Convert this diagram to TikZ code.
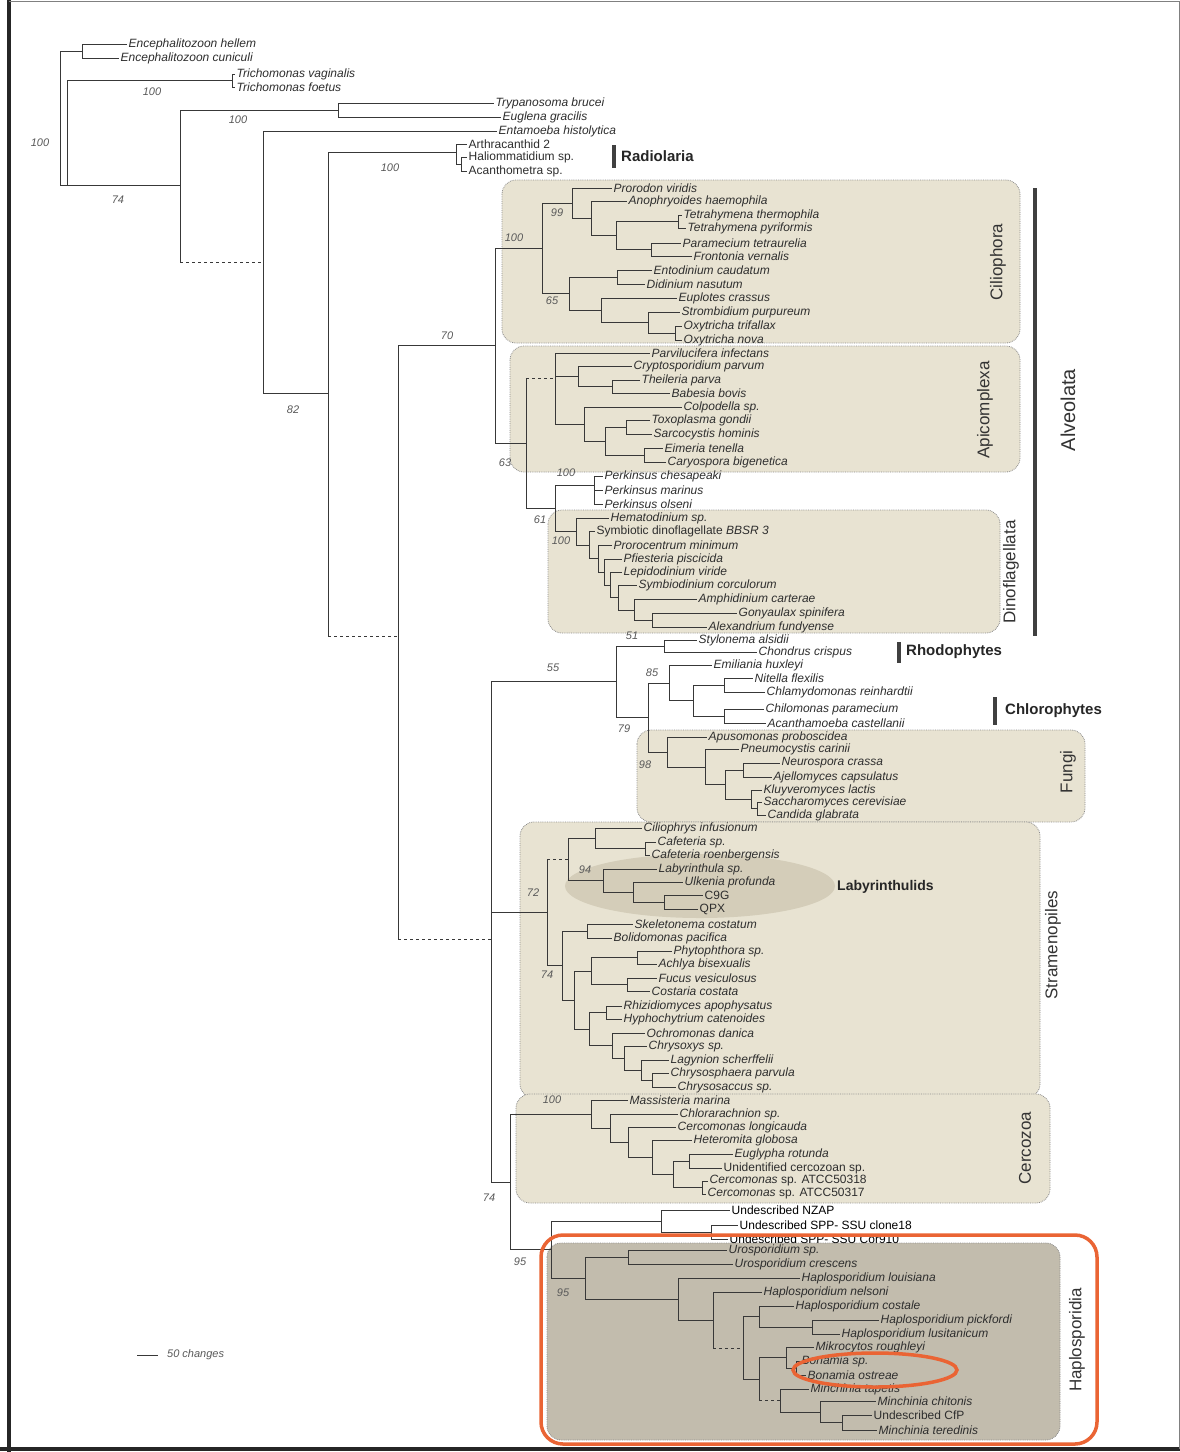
\documentclass[tikz,border=0pt]{standalone}
\usepackage{fontspec}
\setmainfont{Liberation Sans}
\definecolor{boxfill}{RGB}{232,227,210}
\definecolor{hapfill}{RGB}{194,188,173}
\definecolor{labyfill}{RGB}{212,205,185}
\definecolor{orng}{RGB}{234,100,52}
\newcommand\Br[2]{\draw[br] (#1) |- (#2);}
\newcommand\Bd[2]{\draw[br] (#1) -- (#1 |- #2); \draw[br,dashed] (#1 |- #2) -- (#2);}
\newcommand\Lf[5]{\node[leaf] (#1) at (#3,#4) {#5}; \draw[br] (#2) |- (#1.west);}
\begin{document}
\begin{tikzpicture}[x=1pt,y=-1pt,
 br/.style={draw=black!78, line width=0.9pt},
 leaf/.style={anchor=west, inner sep=1.5pt, font=\fontsize{12}{13}\selectfont\itshape, text=black!82},
 bs/.style={font=\fontsize{11}{12}\selectfont\itshape, text=black!65, inner sep=1pt},
 grp/.style={rotate=90, font=\fontsize{17}{18}\selectfont, text=black!80, inner sep=0pt},
 tag/.style={anchor=west, font=\fontsize{15}{16}\selectfont\bfseries, text=black!85, inner sep=1pt},
 clade/.style={fill=boxfill, draw=black!45, densely dotted, line width=0.8pt, rounded corners=14pt},
 bar/.style={line width=3.5pt, draw=black!75}]
\useasboundingbox (0,0) rectangle (1180,1452);
\fill[white] (0,0) rectangle (1180,1452);
% frame
\draw[line width=4pt, black!85] (9,0) -- (9,1452);
\draw[line width=4pt, black!85] (0,1449) -- (1180,1449);
\draw[line width=1pt, black!50] (9,1) -- (1180,1);
\draw[line width=1pt, black!50] (1179,1) -- (1179,1449);
% clade boxes
\draw[clade] (502,180) rectangle (1020,343);
\draw[clade] (510,346) rectangle (1020,472);
\draw[clade] (548,510) rectangle (1000,633);
\draw[clade] (637,730) rectangle (1085,822);
\draw[clade] (520,822) rectangle (1040,1098);
\draw[clade] (516,1094) rectangle (1050,1203);
\draw[clade, fill=hapfill] (547,1243) rectangle (1060,1440);
\fill[labyfill] (700,886) ellipse [x radius=135, y radius=32];
% internal nodes: top
\coordinate (R0) at (60,118);
\coordinate (Nenc) at (82,51);
\coordinate (R1) at (67,185);
\coordinate (Ntri) at (232,80.5);
\coordinate (N2) at (180,185);
\coordinate (Ntry) at (338,110);
\coordinate (N3) at (263,262);
\coordinate (N4) at (328,393);
\coordinate (Nrad) at (456,152);
\coordinate (Nrad2) at (461,164);
\coordinate (N5) at (398,636);
\coordinate (A0) at (495,345);
\coordinate (N6) at (491,939);
\Br{R0}{Nenc} \Br{R0}{R1} \Br{R1}{Ntri} \Br{R1}{N2} \Br{N2}{Ntry} \Bd{N2}{N3}
\Br{N3}{N4} \Br{N4}{Nrad} \Br{Nrad}{Nrad2} \Bd{N4}{N5} \Br{N5}{A0} \Bd{N5}{N6}
\Lf{l1}{Nenc}{127}{44}{Encephalitozoon hellem}
\Lf{l2}{Nenc}{119}{58}{Encephalitozoon cuniculi}
\Lf{l3}{Ntri}{235}{74}{Trichomonas vaginalis}
\Lf{l4}{Ntri}{235}{87}{Trichomonas foetus}
\Lf{l5}{Ntry}{494}{103}{Trypanosoma brucei}
\Lf{l6}{Ntry}{501}{117}{Euglena gracilis}
\Lf{l7}{N3}{497}{131}{Entamoeba histolytica}
\Lf{l8}{Nrad}{467}{144}{\upshape Arthracanthid 2}
\Lf{l9}{Nrad2}{467}{157}{\upshape Haliommatidium sp.}
\Lf{l10}{Nrad2}{467}{171}{\upshape Acanthometra sp.}
\node[bs] (b1) at (152,92) {100};
\node[bs] (b2) at (238,120) {100};
\node[bs] (b3) at (40,143) {100};
\node[bs] (b4) at (390,168) {100};
\node[bs] (b5) at (118,200) {74};
\node[bs] (b6) at (293,410) {82};
\node[bs] (b7) at (447,336) {70};
\draw[bar] (614,145) -- (614,168);
\node[tag] (tRad) at (620,156) {Radiolaria};
% Ciliophora
\coordinate (C1) at (542,248);
\coordinate (C2) at (572,203);
\coordinate (C3) at (591,218.5);
\coordinate (C4) at (616,235.5);
\coordinate (Ctet) at (678,221.5);
\coordinate (C5) at (651,249.5);
\coordinate (C6) at (569,293.5);
\coordinate (C7) at (617,277);
\coordinate (C8) at (601,310);
\coordinate (C8b) at (648,322.5);
\coordinate (Coxy) at (675,333);
\Br{A0}{C1} \Br{C1}{C2} \Br{C2}{C3} \Br{C3}{C4} \Br{C4}{Ctet} \Br{C4}{C5}
\Br{C1}{C6} \Br{C6}{C7} \Br{C6}{C8} \Br{C8}{C8b} \Br{C8b}{Coxy}
\Lf{c1}{C2}{612}{188}{Prorodon viridis}
\Lf{c2}{C3}{627}{201}{Anophryoides haemophila}
\Lf{c3}{Ctet}{682}{215}{Tetrahymena thermophila}
\Lf{c4}{Ctet}{686}{228}{Tetrahymena pyriformis}
\Lf{c5}{C5}{681}{243}{Paramecium tetraurelia}
\Lf{c6}{C5}{692}{256}{Frontonia vernalis}
\Lf{c7}{C7}{652}{270}{Entodinium caudatum}
\Lf{c8}{C7}{645}{284}{Didinium nasutum}
\Lf{c9}{C8}{677}{298}{Euplotes crassus}
\Lf{c10}{C8b}{680}{312}{Strombidium purpureum}
\Lf{c11}{Coxy}{682}{326}{Oxytricha trifallax}
\Lf{c12}{Coxy}{682}{340}{Oxytricha nova}
\node[bs] (b8) at (514,238) {100};
\node[bs] (b9) at (557,213) {99};
\node[bs] (b10) at (552,301) {65};
% Apicomplexa
\coordinate (A1) at (526,443);
\coordinate (AP0) at (555,378);
\coordinate (AP1) at (578,376);
\coordinate (AP2) at (612,386.5);
\coordinate (AP3) at (584,424);
\coordinate (AP4) at (605,441);
\coordinate (AP5) at (626,427);
\coordinate (AP6) at (644,455);
\Br{A0}{A1} \Bd{A1}{AP0} \Br{AP0}{AP1} \Br{AP1}{AP2} \Br{AP0}{AP3} \Br{AP3}{AP4} \Br{AP4}{AP5} \Br{AP4}{AP6}
\Lf{a1}{AP0}{650}{353}{Parvilucifera infectans}
\Lf{a2}{AP1}{632}{366}{Cryptosporidium parvum}
\Lf{a3}{AP2}{640}{380}{Theileria parva}
\Lf{a4}{AP2}{670}{393}{Babesia bovis}
\Lf{a5}{AP3}{682}{407}{Colpodella sp.}
\Lf{a6}{AP5}{650}{420}{Toxoplasma gondii}
\Lf{a7}{AP5}{652}{434}{Sarcocystis hominis}
\Lf{a8}{AP6}{663}{448}{Eimeria tenella}
\Lf{a9}{AP6}{666}{462}{Caryospora bigenetica}
\node[bs] (b11) at (505,463) {63};
% Perkinsus and Dinoflagellata
\coordinate (A2) at (555,508);
\coordinate (Nperk) at (594,485);
\coordinate (D0) at (576,531);
\coordinate (D1) at (589,545);
\coordinate (D2) at (598,558);
\coordinate (D3) at (604,572);
\coordinate (D4) at (610,585);
\coordinate (D5) at (618,597);
\coordinate (D6) at (634,610);
\coordinate (D7) at (652,620);
\Br{A1}{A2} \Br{A2}{Nperk} \Br{A2}{D0} \Br{D0}{D1} \Br{D1}{D2} \Br{D2}{D3}
\Br{D3}{D4} \Br{D4}{D5} \Br{D5}{D6} \Br{D6}{D7}
\Lf{p1}{Nperk}{603}{476}{Perkinsus chesapeaki}
\Lf{p2}{Nperk}{603}{490}{Perkinsus marinus}
\Lf{p3}{Nperk}{603}{504}{Perkinsus olseni}
\Lf{d1}{D0}{609}{518}{Hematodinium sp.}
\Lf{d2}{D1}{595}{531}{\upshape Symbiotic dinoflagellate \itshape BBSR 3}
\Lf{d3}{D2}{612}{545}{Prorocentrum minimum}
\Lf{d4}{D3}{622}{559}{Pfiesteria piscicida}
\Lf{d5}{D4}{622}{572}{Lepidodinium viride}
\Lf{d6}{D5}{637}{585}{Symbiodinium corculorum}
\Lf{d7}{D6}{697}{599}{Amphidinium carterae}
\Lf{d8}{D7}{737}{613}{Gonyaulax spinifera}
\Lf{d9}{D7}{707}{627}{Alexandrium fundyense}
\node[bs] (b12) at (566,473) {100};
\node[bs] (b13) at (540,520) {61};
\node[bs] (b14) at (561,541) {100};
% Rhodophytes, chlorophytes, fungi
\coordinate (R) at (616,681.5);
\coordinate (Rho) at (664,646);
\coordinate (R2) at (648,717);
\coordinate (G85) at (669,683);
\coordinate (G2) at (693,700.5);
\coordinate (G3) at (724,685);
\coordinate (G4) at (724,716);
\coordinate (F0) at (667,752);
\coordinate (F1) at (705,767);
\coordinate (F2) at (725,784.5);
\coordinate (F3) at (743,770);
\coordinate (F4) at (751,799);
\coordinate (F5) at (757,808.5);
\Br{N6}{R} \Br{R}{Rho} \Br{R}{R2} \Br{R2}{G85} \Br{G85}{G2} \Br{G2}{G3} \Br{G2}{G4}
\Br{R2}{F0} \Br{F0}{F1} \Br{F1}{F2} \Br{F2}{F3} \Br{F2}{F4} \Br{F4}{F5}
\Lf{r1}{Rho}{697}{640}{Stylonema alsidii}
\Lf{r2}{Rho}{757}{652}{Chondrus crispus}
\Lf{g1}{G85}{712}{665}{Emiliania huxleyi}
\Lf{g2}{G3}{753}{678}{Nitella flexilis}
\Lf{g3}{G3}{765}{692}{Chlamydomonas reinhardtii}
\Lf{g4}{G4}{764}{709}{Chilomonas paramecium}
\Lf{g5}{G4}{766}{723}{Acanthamoeba castellanii}
\Lf{f1}{F0}{707}{737}{Apusomonas proboscidea}
\Lf{f2}{F1}{739}{749}{Pneumocystis carinii}
\Lf{f3}{F3}{780}{763}{Neurospora crassa}
\Lf{f4}{F3}{772}{777}{Ajellomyces capsulatus}
\Lf{f5}{F4}{762}{790}{Kluyveromyces lactis}
\Lf{f6}{F5}{762}{802}{Saccharomyces cerevisiae}
\Lf{f7}{F5}{766}{815}{Candida glabrata}
\node[bs] (b15) at (553,668) {55};
\node[bs] (b16) at (632,636) {51};
\node[bs] (b17) at (652,673) {85};
\node[bs] (b18) at (624,729) {79};
\node[bs] (b19) at (645,765) {98};
\draw[bar] (899,642) -- (899,663);
\node[tag] (tRho) at (905,652) {Rhodophytes};
\draw[bar] (995,697) -- (995,725);
\node[tag] (tChl) at (1004,711) {Chlorophytes};
% Stramenopiles
\coordinate (S0) at (547,912);
\coordinate (S2) at (568,859);
\coordinate (SC) at (595,838);
\coordinate (SCaf) at (645,848.5);
\coordinate (SL) at (603,880.5);
\coordinate (SL2) at (633,892);
\coordinate (SL3) at (664,902);
\coordinate (S3) at (562,965.5);
\coordinate (SB) at (587,931);
\coordinate (S4) at (574,1000);
\coordinate (S5) at (591,971);
\coordinate (SPA) at (637,957.5);
\coordinate (SFC) at (627,984.5);
\coordinate (S6) at (589,1029);
\coordinate (SRH) at (606,1012.5);
\coordinate (S7) at (612,1045.5);
\coordinate (S8) at (624,1058);
\coordinate (S9) at (641,1070);
\coordinate (S10) at (652,1080);
\Br{N6}{S0} \Bd{S0}{S2} \Br{S2}{SC} \Br{SC}{SCaf} \Br{S2}{SL} \Br{SL}{SL2} \Br{SL2}{SL3}
\Br{S0}{S3} \Br{S3}{SB} \Br{S3}{S4} \Br{S4}{S5} \Br{S5}{SPA} \Br{S5}{SFC} \Br{S4}{S6}
\Br{S6}{SRH} \Br{S6}{S7} \Br{S7}{S8} \Br{S8}{S9} \Br{S9}{S10}
\Lf{s1}{SC}{642}{828}{Ciliophrys infusionum}
\Lf{s2}{SCaf}{656}{842}{Cafeteria sp.}
\Lf{s3}{SCaf}{650}{855}{Cafeteria roenbergensis}
\Lf{s4}{SL}{657}{869}{Labyrinthula sp.}
\Lf{s5}{SL2}{683}{882}{Ulkenia profunda}
\Lf{s6}{SL3}{703}{895}{\upshape C9G}
\Lf{s7}{SL3}{698}{909}{\upshape QPX}
\Lf{s8}{SB}{633}{924}{Skeletonema costatum}
\Lf{s9}{SB}{612}{938}{Bolidomonas pacifica}
\Lf{s10}{SPA}{672}{951}{Phytophthora sp.}
\Lf{s11}{SPA}{657}{964}{Achlya bisexualis}
\Lf{s12}{SFC}{657}{978}{Fucus vesiculosus}
\Lf{s13}{SFC}{650}{991}{Costaria costata}
\Lf{s14}{SRH}{622}{1006}{Rhizidiomyces apophysatus}
\Lf{s15}{SRH}{622}{1019}{Hyphochytrium catenoides}
\Lf{s16}{S7}{645}{1033}{Ochromonas danica}
\Lf{s17}{S8}{647}{1046}{Chrysoxys sp.}
\Lf{s18}{S9}{669}{1060}{Lagynion scherffelii}
\Lf{s19}{S10}{669}{1073}{Chrysosphaera parvula}
\Lf{s20}{S10}{676}{1087}{Chrysosaccus sp.}
\node[bs] (b20) at (585,870) {94};
\node[bs] (b21) at (533,893) {72};
\node[bs] (b22) at (547,975) {74};
\node[tag, font=\fontsize{14}{15}\selectfont\bfseries] (tLab) at (836,887) {Labyrinthulids};
% Cercozoa
\coordinate (N7) at (510,1182);
\coordinate (CE0) at (591,1114);
\coordinate (CE1) at (610,1128);
\coordinate (CE2) at (628,1142);
\coordinate (CE3) at (652,1157);
\coordinate (CE4) at (673,1174);
\coordinate (E1) at (689,1161);
\coordinate (E2) at (702,1187.5);
\Br{N6}{N7} \Br{N7}{CE0} \Br{CE0}{CE1} \Br{CE1}{CE2} \Br{CE2}{CE3} \Br{CE3}{CE4} \Br{CE4}{E1} \Br{CE4}{E2}
\Lf{e1}{CE0}{628}{1100}{Massisteria marina}
\Lf{e2}{CE1}{678}{1114}{Chlorarachnion sp.}
\Lf{e3}{CE2}{676}{1127}{Cercomonas longicauda}
\Lf{e4}{CE3}{692}{1140}{Heteromita globosa}
\Lf{e5}{E1}{733}{1154}{Euglypha rotunda}
\Lf{e6}{E1}{722}{1168}{\upshape Unidentified cercozoan sp.}
\Lf{e7}{E2}{708}{1181}{Cercomonas \upshape sp. ATCC50318}
\Lf{e8}{E2}{706}{1194}{Cercomonas \upshape sp. ATCC50317}
\node[bs] (b23) at (552,1100) {100};
\node[bs] (b24) at (489,1198) {74};
% Undescribed and Haplosporidia
\coordinate (U0) at (551,1249.5);
\coordinate (U1) at (661,1221);
\coordinate (U2) at (711,1232);
\coordinate (H0) at (585,1278);
\coordinate (Uro) at (628,1257);
\coordinate (H1) at (678,1299);
\coordinate (H2) at (713,1320);
\coordinate (H3) at (743,1348);
\coordinate (HC) at (759,1316.5);
\coordinate (HP) at (812,1327);
\coordinate (HB) at (759,1379);
\coordinate (MB) at (786,1357.5);
\coordinate (Bon) at (796,1368);
\coordinate (MIN0) at (780,1400.5);
\coordinate (MIN1) at (820,1412);
\coordinate (MIN2) at (842,1422.5);
\Br{N7}{U0} \Br{U0}{U1} \Br{U1}{U2} \Br{U0}{H0} \Br{H0}{Uro} \Br{H0}{H1} \Br{H1}{H2}
\Bd{H2}{H3} \Br{H3}{HC} \Br{HC}{HP} \Br{H3}{HB} \Br{HB}{MB} \Br{MB}{Bon} \Bd{HB}{MIN0}
\Br{MIN0}{MIN1} \Br{MIN1}{MIN2}
\Lf{u1}{U1}{730}{1210}{\upshape\color{black} Undescribed NZAP}
\Lf{u2}{U2}{738}{1225}{\upshape\color{black} Undescribed SPP- SSU clone18}
\Lf{u3}{U2}{728}{1239}{\upshape\color{black} Undescribed SPP- SSU Cor910}
\Lf{h1}{Uro}{727}{1250}{Urosporidium sp.}
\Lf{h2}{Uro}{733}{1264}{Urosporidium crescens}
\Lf{h3}{H1}{800}{1278}{Haplosporidium louisiana}
\Lf{h4}{H2}{762}{1292}{Haplosporidium nelsoni}
\Lf{h5}{HC}{794}{1306}{Haplosporidium costale}
\Lf{h6}{HP}{879}{1320}{Haplosporidium pickfordi}
\Lf{h7}{HP}{840}{1334}{Haplosporidium lusitanicum}
\Lf{h8}{MB}{814}{1347}{Mikrocytos roughleyi}
\Lf{h9}{Bon}{800}{1361}{Bonamia sp.}
\Lf{h10}{Bon}{806}{1375}{Bonamia ostreae}
\Lf{h11}{MIN0}{809}{1389}{Minchinia tapetis}
\Lf{h12}{MIN1}{876}{1401}{Minchinia chitonis}
\Lf{h13}{MIN2}{872}{1415}{\upshape Undescribed CfP}
\Lf{h14}{MIN2}{877}{1430}{Minchinia teredinis}
\node[bs] (b25) at (520,1262) {95};
\node[bs] (b26) at (563,1293) {95};
% group labels
\node[grp] (gCil) at (998,262) {Ciliophora};
\node[grp] (gApi) at (985,410) {Apicomplexa};
\node[grp] (gDin) at (1011,572) {Dinoflagellata};
\node[grp] (gFun) at (1068,772) {Fungi};
\node[grp] (gStr) at (1053,945) {Stramenopiles};
\node[grp] (gCer) at (1025,1148) {Cercozoa};
\node[grp] (gHap) at (1077,1340) {Haplosporidia};
\node[grp, font=\fontsize{20}{22}\selectfont] (gAlv) at (1068,410) {Alveolata};
\draw[bar] (1035,188) -- (1035,636);
% scale bar
\coordinate (sbA) at (137,1355);
\coordinate (sbB) at (158,1355);
\draw[br] (sbA) -- (sbB);
\node[bs, anchor=west] (sbT) at (166,1355) {50 changes};
% highlights
\draw[orng, line width=3.5pt, rounded corners=22pt] (541,1235) rectangle (1097,1444);
\draw[orng, line width=3.5pt] (875,1370) ellipse [x radius=82, y radius=17];
\end{tikzpicture}
\end{document}
